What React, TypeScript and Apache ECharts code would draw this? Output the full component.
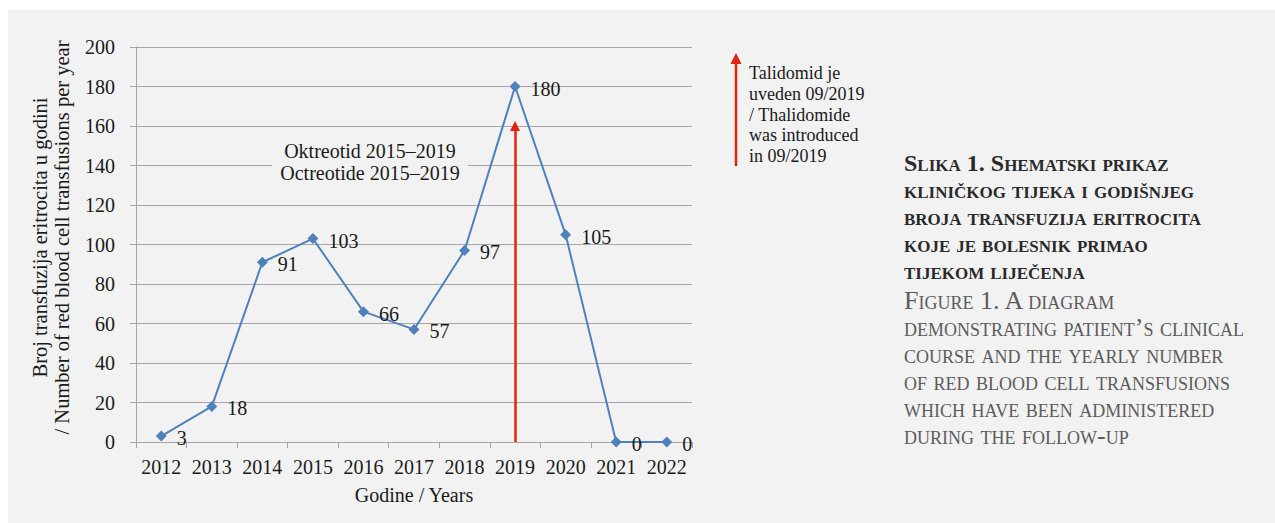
import React, { useEffect, useRef } from 'react';
import * as echarts from 'echarts';

const years = ['2012', '2013', '2014', '2015', '2016', '2017', '2018', '2019', '2020', '2021', '2022'];
const transfusions = [3, 18, 91, 103, 66, 57, 97, 180, 105, 0, 0];
const yMin = 0;
const yMax = 200;
const yStep = 20;
const thalidomideYear = '2019';
const thalidomideArrowTop = 160;
const yAxisTitle = ['Broj transfuzija eritrocita u godini', '/ Number of red blood cell transfusions per year'];
const xAxisTitle = 'Godine / Years';
const octreotideNote = ['Oktreotid 2015–2019', 'Octreotide 2015–2019'];
const thalidomideNote = ['Talidomid je', 'uveden 09/2019', '/ Thalidomide', 'was introduced', 'in 09/2019'];
const captionHr = [
  'Slika 1. Shematski prikaz',
  'kliničkog tijeka i godišnjeg',
  'broja transfuzija eritrocita',
  'koje je bolesnik primao',
  'tijekom liječenja',
];
const captionEn = [
  'Figure 1. A diagram',
  'demonstrating patient’s clinical',
  'course and the yearly number',
  'of red blood cell transfusions',
  'which have been administered',
  'during the follow-up',
];

const FONT = "'Liberation Serif', serif";
const INK = '#1a1a1a';
const GRID = '#a6a6a6';
const BLUE = '#4f81bd';
const RED = '#e3230f';

export default function App() {
  const ref = useRef<HTMLDivElement>(null);
  useEffect(() => {
    document.body.style.margin = '0';
    if (!ref.current) return;
    const chart = echarts.init(ref.current, null, { renderer: 'svg' });
    chart.setOption({
      animation: false,
      backgroundColor: '#f2f2f2',
      textStyle: { fontFamily: FONT },
      grid: { left: 128, right: 583, top: 37, bottom: 81, containLabel: false },
      xAxis: {
        type: 'category',
        data: years,
        boundaryGap: true,
        axisLine: { lineStyle: { color: GRID, width: 1 } },
        axisTick: { show: true, length: 6, lineStyle: { color: GRID } },
        axisLabel: { color: INK, fontSize: 20, margin: 14, lineHeight: 22, fontFamily: FONT, interval: 0 },
        splitLine: { show: false },
        name: xAxisTitle,
        nameLocation: 'middle',
        nameGap: 42,
        nameTextStyle: { color: INK, fontSize: 20, lineHeight: 22, fontFamily: FONT },
      },
      yAxis: {
        type: 'value',
        min: yMin,
        max: yMax,
        interval: yStep,
        axisLine: { show: true, lineStyle: { color: GRID, width: 1 } },
        axisTick: { show: true, length: 6, lineStyle: { color: GRID } },
        axisLabel: { color: INK, fontSize: 20, margin: 21, fontFamily: FONT },
        splitLine: { show: true, lineStyle: { color: GRID, width: 1 } },
        name: yAxisTitle.join('\n'),
        nameLocation: 'middle',
        nameRotate: 90,
        nameGap: 63,
        nameTextStyle: {
          color: INK,
          fontSize: 20.5,
          lineHeight: 22,
          fontFamily: FONT,
          padding: [0, 0, 0, 14],
        },
      },
      series: [
        {
          type: 'line',
          data: transfusions,
          symbol: 'diamond',
          symbolSize: 11,
          itemStyle: { color: BLUE },
          lineStyle: { color: BLUE, width: 2 },
          label: {
            show: true,
            position: 'right',
            distance: 10,
            offset: [0, 2],
            fontSize: 20,
            color: INK,
            fontFamily: FONT,
          },
          markLine: {
            silent: true,
            symbol: ['none', 'triangle'],
            symbolSize: 10,
            label: { show: false },
            lineStyle: { color: RED, width: 2.5, type: 'solid' },
            emphasis: { disabled: true },
            data: [[{ coord: [thalidomideYear, yMin] }, { coord: [thalidomideYear, thalidomideArrowTop] }]],
          },
          z: 3,
        },
      ],
      graphic: [
        {
          type: 'text',
          x: 362,
          y: 152,
          z: 50,
          style: {
            text: octreotideNote.join('\n'),
            fontSize: 20,
            fontFamily: FONT,
            fill: INK,
            align: 'center',
            textAlign: 'center',
            verticalAlign: 'middle',
            textVerticalAlign: 'middle',
            lineHeight: 22,
            backgroundColor: '#f2f2f2',
            padding: [1, 8],
          },
        },
        {
          type: 'line',
          shape: { x1: 728, y1: 156, x2: 728, y2: 52 },
          style: { stroke: RED, lineWidth: 2.5 },
        },
        {
          type: 'polygon',
          shape: { points: [[728, 43], [722.5, 54], [733.5, 54]] },
          style: { fill: RED },
        },
        {
          type: 'text',
          x: 741,
          y: 52.6,
          style: {
            text: thalidomideNote.join('\n'),
            fontSize: 18,
            fontFamily: FONT,
            fill: INK,
            lineHeight: 20.8,
            verticalAlign: 'top',
            textVerticalAlign: 'top',
          },
        },
        {
          type: 'text',
          x: 896,
          y: 139.5,
          style: {
            text: captionHr.join('\n'),
            font: "small-caps bold 24px 'Liberation Serif'",
            fill: '#2a2a2a',
            lineHeight: 27,
            verticalAlign: 'top',
            textVerticalAlign: 'top',
          },
        },
        {
          type: 'text',
          x: 896,
          y: 276.5,
          style: {
            text: captionEn.join('\n'),
            font: "small-caps 26px 'Liberation Serif'",
            fill: '#5c5c5c',
            lineHeight: 27,
            verticalAlign: 'top',
            textVerticalAlign: 'top',
          },
        },
      ],
    });
    return () => chart.dispose();
  }, []);
  return (
    <div
      ref={ref}
      style={{ position: 'absolute', left: 8, top: 10, width: 1267, height: 513, overflow: 'hidden' }}
    />
  );
}
